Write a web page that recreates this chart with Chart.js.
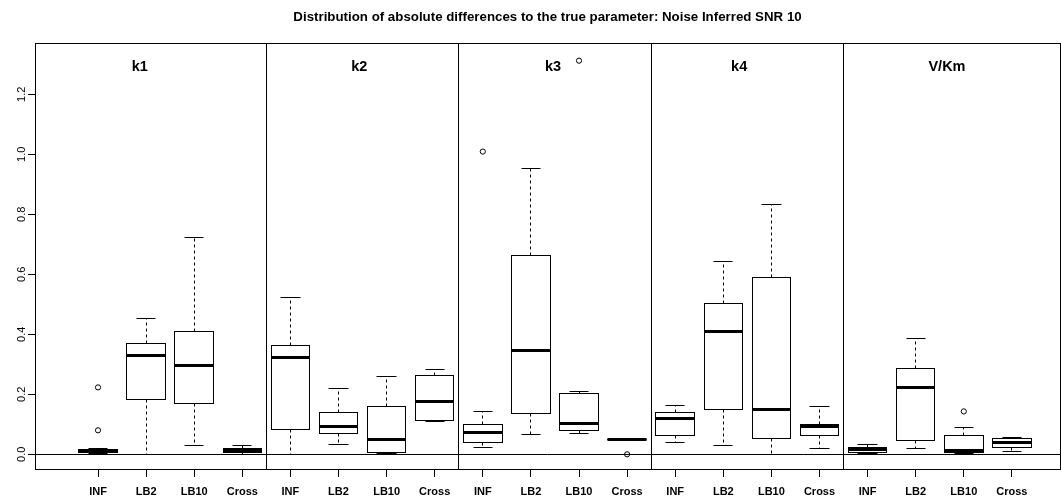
<!DOCTYPE html>
<html>
<head>
<meta charset="utf-8">
<script src="https://cdn.jsdelivr.net/npm/chart.js@4.4.1/dist/chart.umd.min.js"></script>
<style>
    html, body { margin: 0; padding: 0; background: #fff; }
    canvas { display: block; }
</style>
</head>
<body>
<canvas id="chart" width="1061" height="496"></canvas>
<script>
const chartTitle = "Distribution of absolute differences to the true parameter: Noise Inferred SNR 10";
const parameters = ["k1", "k2", "k3", "k4", "V/Km"];
const methods = ["INF", "LB2", "LB10", "Cross"];

// One entry per box, in plot order: k1 INF..Cross, k2 INF..Cross, ..., V/Km INF..Cross
const whiskerLow = [
    0.004, 0.000, 0.031, 0.001,
    0.000, 0.034, 0.004, 0.108,
    0.023, 0.067, 0.071, 0.050,
    0.039, 0.031, 0.000, 0.019,
    0.003, 0.020, 0.003, 0.010,
];
const lowerQuartile = [
    0.006, 0.183, 0.169, 0.005,
    0.082, 0.069, 0.006, 0.113,
    0.040, 0.137, 0.081, 0.050,
    0.064, 0.148, 0.052, 0.064,
    0.007, 0.047, 0.007, 0.023,
];
const medians = [
    0.012, 0.332, 0.298, 0.015,
    0.325, 0.095, 0.052, 0.177,
    0.074, 0.349, 0.103, 0.050,
    0.120, 0.411, 0.151, 0.095,
    0.018, 0.225, 0.013, 0.041,
];
const upperQuartile = [
    0.017, 0.370, 0.408, 0.020,
    0.363, 0.139, 0.161, 0.263,
    0.100, 0.663, 0.202, 0.050,
    0.139, 0.503, 0.590, 0.101,
    0.022, 0.287, 0.062, 0.052,
];
const whiskerHigh = [
    0.021, 0.454, 0.721, 0.029,
    0.522, 0.220, 0.258, 0.283,
    0.144, 0.953, 0.210, 0.050,
    0.164, 0.644, 0.834, 0.160,
    0.033, 0.385, 0.090, 0.055,
];

const outlierPositions = [1, 1, 9, 11, 12, 19];
const outlierValues = [0.223, 0.080, 1.009, 1.312, 0.000, 0.143];

const yTicks = [0, 0.2, 0.4, 0.6, 0.8, 1.0, 1.2];

const positions = medians.map((_, i) => i + 1);
const dividerPositions = [4.5, 8.5, 12.5, 16.5];
const panelTitleX = [1.87, 6.43, 10.46, 14.33, 18.65];
const panelTitleY = 1.29;
const boxWidth = 0.8;
const stapleWidth = 0.4;

Chart.defaults.font.family = '"Liberation Sans", Arial, sans-serif';
Chart.defaults.color = "#000";

const crisp = (v) => Math.round(v - 0.5) + 0.5;

// The axes reserve edge room for their end labels; R doesn't, so the
// plot frame is pinned to the figure margins instead.
function noEdgePadding(scale) {
    scale.paddingLeft = 0;
    scale.paddingRight = 0;
    scale.paddingTop = 0;
    scale.paddingBottom = 0;
}

// Draws the boxes, whiskers and medians the way R's boxplot() does,
// placing everything through the chart's own x/y scales.
const boxPlotPlugin = {
    id: "boxPlot",
    beforeDatasetsDraw(chart) {
        const { ctx, scales: { x, y } } = chart;
        const halfBox = (x.getPixelForValue(1 + boxWidth / 2) - x.getPixelForValue(1));
        const halfStaple = (x.getPixelForValue(1 + stapleWidth / 2) - x.getPixelForValue(1));
        ctx.save();
        ctx.strokeStyle = "#000";
        ctx.lineWidth = 1;
        positions.forEach((pos, i) => {
            const cx = x.getPixelForValue(pos);
            const left = crisp(cx - halfBox);
            const right = crisp(cx + halfBox);
            const mid = crisp(cx);
            const yLo = crisp(y.getPixelForValue(whiskerLow[i]));
            const yQ1 = crisp(y.getPixelForValue(lowerQuartile[i]));
            const yQ3 = crisp(y.getPixelForValue(upperQuartile[i]));
            const yHi = crisp(y.getPixelForValue(whiskerHigh[i]));
            const yMed = Math.round(y.getPixelForValue(medians[i]));

            // whiskers
            ctx.setLineDash([3, 3]);
            ctx.beginPath();
            ctx.moveTo(mid, yQ3);
            ctx.lineTo(mid, yHi);
            ctx.moveTo(mid, yQ1);
            ctx.lineTo(mid, yLo);
            ctx.stroke();
            ctx.setLineDash([]);

            // staples
            ctx.beginPath();
            ctx.moveTo(crisp(cx - halfStaple), yHi);
            ctx.lineTo(crisp(cx + halfStaple), yHi);
            ctx.moveTo(crisp(cx - halfStaple), yLo);
            ctx.lineTo(crisp(cx + halfStaple), yLo);
            ctx.stroke();

            // box
            ctx.fillStyle = "#fff";
            ctx.fillRect(left, yQ3, right - left, yQ1 - yQ3);
            ctx.strokeRect(left, yQ3, right - left, yQ1 - yQ3);

            // median
            ctx.lineWidth = 3;
            ctx.beginPath();
            ctx.moveTo(left, yMed + 0.5);
            ctx.lineTo(right, yMed + 0.5);
            ctx.stroke();
            ctx.lineWidth = 1;
        });
        ctx.restore();
    },
    afterDraw(chart) {
        const { ctx, chartArea: area, scales: { x, y } } = chart;
        ctx.save();
        ctx.strokeStyle = "#000";
        ctx.lineWidth = 1;

        // abline(h = 0) and the panel separators
        const y0 = crisp(y.getPixelForValue(0));
        ctx.beginPath();
        ctx.moveTo(area.left, y0);
        ctx.lineTo(area.right, y0);
        dividerPositions.forEach((d) => {
            const px = crisp(x.getPixelForValue(d));
            ctx.moveTo(px, area.top);
            ctx.lineTo(px, area.bottom);
        });
        ctx.stroke();

        // plot frame
        ctx.strokeRect(crisp(area.left), crisp(area.top),
            Math.round(area.right - area.left), Math.round(area.bottom - area.top));

        // panel headings
        ctx.fillStyle = "#000";
        ctx.font = 'bold 14.5px "Liberation Sans", Arial, sans-serif';
        ctx.textAlign = "center";
        ctx.textBaseline = "middle";
        parameters.forEach((name, i) => {
            ctx.fillText(name, x.getPixelForValue(panelTitleX[i]), y.getPixelForValue(panelTitleY));
        });
        ctx.restore();
    },
};

new Chart(document.getElementById("chart"), {
    type: "scatter",
    data: {
        datasets: [{
            label: "outliers",
            data: outlierPositions.map((p, i) => ({ x: p, y: outlierValues[i] })),
            pointStyle: "circle",
            pointRadius: 2.6,
            pointBorderWidth: 1,
            borderColor: "#000",
            backgroundColor: "rgba(0,0,0,0)",
        }],
    },
    options: {
        responsive: false,
        animation: false,
        devicePixelRatio: 1,
        layout: { autoPadding: false, padding: { left: 0, right: 1, top: 0, bottom: 0 } },
        plugins: {
            legend: { display: false },
            tooltip: { enabled: false },
            title: {
                display: true,
                fullSize: false, // R centres the main title over the plot region
                text: chartTitle,
                color: "#000",
                font: { size: 13.3, weight: "bold" },
                padding: { top: 9, bottom: 19 },
            },
        },
        scales: {
            x: {
                type: "linear",
                min: -0.31,
                max: 21.0,
                afterFit(scale) {
                    scale.height = 26;
                    noEdgePadding(scale);
                },
                afterBuildTicks(scale) {
                    scale.ticks = positions.map((v) => ({ value: v }));
                },
                ticks: {
                    autoSkip: false,
                    maxRotation: 0,
                    padding: 8,
                    font: { size: 11, weight: "bold" },
                    callback: (value, index) => methods[index % methods.length],
                },
                grid: { drawOnChartArea: false, drawTicks: true, tickLength: 7, color: "#000" },
                border: { display: false },
            },
            y: {
                min: -0.0523,
                max: 1.3677,
                afterFit(scale) {
                    scale.width = 35;
                    noEdgePadding(scale);
                },
                afterBuildTicks(scale) {
                    scale.ticks = yTicks.map((v) => ({ value: v }));
                },
                ticks: {
                    minRotation: 90,
                    maxRotation: 90,
                    crossAlign: "center",
                    padding: -2,
                    font: { size: 11 },
                    callback: (value) => value.toFixed(1),
                },
                grid: { drawOnChartArea: false, drawTicks: true, tickLength: 7, color: "#000" },
                border: { display: false },
            },
        },
    },
    plugins: [boxPlotPlugin],
});
</script>
</body>
</html>
